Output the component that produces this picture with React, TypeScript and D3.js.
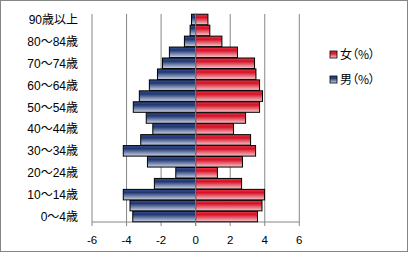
import React from "react";
import * as d3 from "d3";

const categories = ["0～4歳","5～9歳","10～14歳","15～19歳","20～24歳","25～29歳","30～34歳","35～39歳","40～44歳","45～49歳","50～54歳","55～59歳","60～64歳","65～69歳","70～74歳","75～79歳","80～84歳","85～89歳","90歳以上"];
const male = [-3.64,-3.80,-4.19,-2.39,-1.15,-2.79,-4.19,-3.18,-2.48,-2.86,-3.61,-3.26,-2.68,-2.21,-1.92,-1.52,-0.65,-0.32,-0.24];
const female = [3.58,3.84,3.99,2.66,1.26,2.71,3.47,3.18,2.19,2.89,3.70,3.87,3.70,3.49,3.41,2.42,1.52,0.82,0.71];
const xTicks = [-6,-4,-2,0,2,4,6];
const seriesNames = ["女（%）","男（%）"];

export default function App() {
  const W = 409, H = 253;
  const x = d3.scaleLinear().domain([-6, 6]).range([92, 299.3]);
  const y = d3.scaleBand<string>().domain(categories.slice().reverse()).range([14, 222]).paddingInner(0.04).paddingOuter(0.02);
  const font = "'Liberation Sans', 'Noto Sans CJK JP', sans-serif";
  const cjkFont = "'Noto Sans CJK JP', sans-serif";
  const gray = "#868686";
  return (
    <div style={{ position: "absolute", left: 0, top: 0 }}>
      <svg width={W} height={H} style={{ display: "block" }}>
        <defs>
          <linearGradient id="gBlue" x1="0" y1="0" x2="0" y2="1">
            <stop offset="0" stopColor="#3a5290" />
            <stop offset="0.3" stopColor="#1f3670" />
            <stop offset="1" stopColor="#cdd5e8" />
          </linearGradient>
          <linearGradient id="gRed" x1="0" y1="0" x2="0" y2="1">
            <stop offset="0" stopColor="#e2404f" />
            <stop offset="0.3" stopColor="#d60f24" />
            <stop offset="1" stopColor="#f6c9ce" />
          </linearGradient>
        </defs>
        <rect x={0} y={0} width={W} height={H} fill="#fff" />
        <rect x={0.5} y={0.5} width={407} height={251} fill="none" stroke={gray} />
        {xTicks.map(t => (
          <line key={"g" + t} x1={x(t)} x2={x(t)} y1={14} y2={226} stroke={gray} />
        ))}
        <line x1={92} x2={299.3} y1={222} y2={222} stroke={gray} />
        {categories.map((c, i) => (
          <g key={c}>
            <rect x={x(male[i])} y={y(c)!} width={x(0) - x(male[i])} height={y.bandwidth()} fill="url(#gBlue)" stroke="#000" strokeWidth={1} />
            <rect x={x(0)} y={y(c)!} width={x(female[i]) - x(0)} height={y.bandwidth()} fill="url(#gRed)" stroke="#000" strokeWidth={1} />
          </g>
        ))}
        <line x1={x(0)} x2={x(0)} y1={14} y2={226} stroke={gray} />
        {xTicks.map(t => (
          <text key={"t" + t} x={x(t)} y={244} textAnchor="middle" fontSize={11.5} fontFamily={font} fill="#000">{t}</text>
        ))}
        {categories.map((c, i) => i % 2 === 0 ? (
          <text key={"c" + c} x={78} y={y(c)! + y.bandwidth() / 2 + 4.5} textAnchor="end" fontSize={12} fontFamily={font} fill="#000">{c}</text>
        ) : null)}
        {seriesNames.map((s, i) => (
          <g key={s} transform={`translate(330, ${51 + i * 25})`}>
            <rect x={0} y={0} width={7} height={7} fill={i === 0 ? "url(#gRed)" : "url(#gBlue)"} stroke="#000" strokeWidth={0.8} />
            <text x={10} y={8} fontSize={12} fontFamily={cjkFont} fill="#000" style={{ fontFeatureSettings: '"palt"' }}>{s}</text>
          </g>
        ))}
      </svg>
    </div>
  );
}
